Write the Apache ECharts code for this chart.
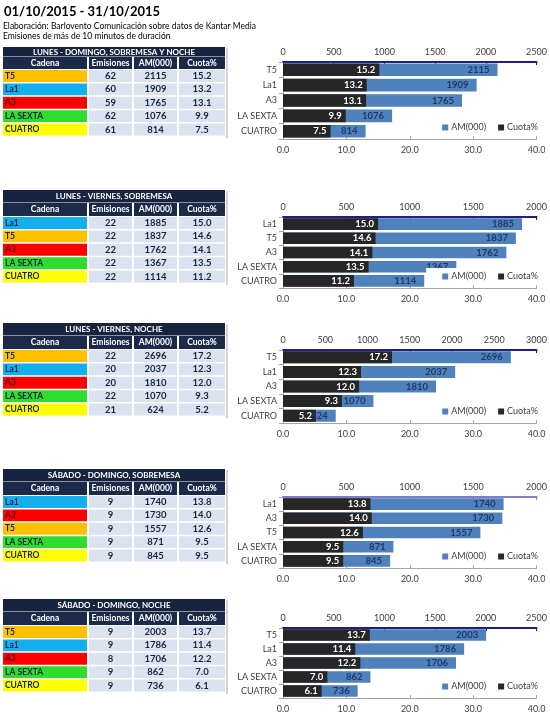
<!DOCTYPE html>
<html>
<head>
<meta charset="utf-8">
<script src="https://cdn.jsdelivr.net/npm/echarts@6/dist/echarts.min.js"></script>
<style>
html,body{margin:0;padding:0;background:#fff;}
#chart{width:550px;height:720px;}
</style>
</head>
<body>
<div id="chart"></div>
<script>
// ---------- DATA ----------
const mainTitle = '01/10/2015 - 31/10/2015';
const subTitle1 = 'Elaboración: Barlovento Comunicación sobre datos de Kantar Media';
const subTitle2 = 'Emisiones de más de 10 minutos de duración';
const panelTitles = ['LUNES - DOMINGO, SOBREMESA Y NOCHE', 'LUNES - VIERNES, SOBREMESA', 'LUNES - VIERNES, NOCHE', 'SÁBADO - DOMINGO, SOBREMESA', 'SÁBADO - DOMINGO, NOCHE'];
const columnHeaders = ['Cadena', 'Emisiones', 'AM(000)', 'Cuota%'];
const seriesNames = ['AM(000)', 'Cuota%'];

const cadena1 = ['T5', 'La1', 'A3', 'LA SEXTA', 'CUATRO'];
const emisiones1 = [62, 60, 59, 62, 61];
const am1 = [2115, 1909, 1765, 1076, 814];
const cuota1 = [15.2, 13.2, 13.1, 9.9, 7.5];

const cadena2 = ['La1', 'T5', 'A3', 'LA SEXTA', 'CUATRO'];
const emisiones2 = [22, 22, 22, 22, 22];
const am2 = [1885, 1837, 1762, 1367, 1114];
const cuota2 = [15.0, 14.6, 14.1, 13.5, 11.2];

const cadena3 = ['T5', 'La1', 'A3', 'LA SEXTA', 'CUATRO'];
const emisiones3 = [22, 20, 20, 22, 21];
const am3 = [2696, 2037, 1810, 1070, 624];
const cuota3 = [17.2, 12.3, 12.0, 9.3, 5.2];

const cadena4 = ['La1', 'A3', 'T5', 'LA SEXTA', 'CUATRO'];
const emisiones4 = [9, 9, 9, 9, 9];
const am4 = [1740, 1730, 1557, 871, 845];
const cuota4 = [13.8, 14.0, 12.6, 9.5, 9.5];

const cadena5 = ['T5', 'La1', 'A3', 'LA SEXTA', 'CUATRO'];
const emisiones5 = [9, 9, 8, 9, 9];
const am5 = [2003, 1786, 1706, 862, 736];
const cuota5 = [13.7, 11.4, 12.2, 7.0, 6.1];

const amAxisMax = [2500, 2000, 3000, 2000, 2500];
const amAxisStep = 500;
const cuotaAxisMax = 40;
const cuotaAxisStep = 10;

// ---------- STYLE / LAYOUT ----------
const FONT = 'Lato, "Open Sans", sans-serif';
const channelColors = {'T5': '#FFC000', 'La1': '#13B0F0', 'A3': '#FF0000', 'LA SEXTA': '#2EDD2E', 'CUATRO': '#FFFF00'};
const NAVY = '#17233F';
const CELL = '#DAE3EF';
const TXT = '#17233F';

const panels = [
  {cad: cadena1, em: emisiones1, am: am1, cu: cuota1},
  {cad: cadena2, em: emisiones2, am: am2, cu: cuota2},
  {cad: cadena3, em: emisiones3, am: am3, cu: cuota3},
  {cad: cadena4, em: emisiones4, am: am4, cu: cuota4},
  {cad: cadena5, em: emisiones5, am: am5, cu: cuota5}
];

const tableTops = [47, 190, 323, 469, 599];
const headerHs = [10, 13, 13, 13, 13];
const colHs = [12, 13, 13, 13, 13];
const rowH = 13.4;
const cols = [[3, 87], [89, 132], [134, 177], [179, 225]];

const gridTops = [62, 217, 350, 497, 628];
const gridHs = [77, 71, 73, 71, 70];
const topAxisColors = ['#1F1F86', '#1F1F86', '#1F1F86', '#7E7EC4', '#1F1F86'];

// ---------- TABLES (graphic) ----------
const graphic = [];
graphic.push({type: 'text', left: 4, top: 5, style: {text: mainTitle, font: 'bold 13px ' + FONT, fill: '#000'}});
graphic.push({type: 'text', left: 3, top: 22, style: {text: subTitle1, font: '8.5px ' + FONT, fill: '#000'}});
graphic.push({type: 'text', left: 3, top: 32, style: {text: subTitle2, font: '8.5px ' + FONT, fill: '#000'}});

panels.forEach((p, i) => {
  const top = tableTops[i];
  const hH = headerHs[i];
  const cH = colHs[i];
  const x0 = cols[0][0], x1 = cols[3][1];
  const totalH = hH + cH + 1 + rowH * p.cad.length;
  graphic.push({type: 'rect', shape: {x: x1 + 1, y: top + 1, width: 2, height: totalH}, style: {fill: '#D4D4D4'}});
  graphic.push({type: 'rect', shape: {x: x0, y: top, width: x1 - x0, height: hH - 0.5}, style: {fill: NAVY}});
  graphic.push({type: 'text', style: {text: panelTitles[i], x: (x0 + x1) / 2, y: top + hH / 2, textAlign: 'center', textVerticalAlign: 'middle', font: 'bold 8px ' + FONT, fill: '#fff'}});
  const cy = top + hH;
  cols.forEach((c, k) => {
    graphic.push({type: 'rect', shape: {x: c[0], y: cy, width: c[1] - c[0], height: cH}, style: {fill: '#1C2A4A'}});
    graphic.push({type: 'text', style: {text: columnHeaders[k], x: (c[0] + c[1]) / 2, y: cy + cH / 2, textAlign: 'center', textVerticalAlign: 'middle', font: 'bold 8.5px ' + FONT, fill: '#fff'}});
  });
  const ry0 = cy + cH + 1;
  p.cad.forEach((name, r) => {
    const ry = ry0 + r * rowH;
    const rh = rowH - 1.5;
    graphic.push({type: 'rect', shape: {x: cols[0][0], y: ry, width: cols[0][1] - cols[0][0], height: rh}, style: {fill: channelColors[name]}});
    graphic.push({type: 'text', style: {text: name, x: cols[0][0] + 2, y: ry + rh / 2, textAlign: 'left', textVerticalAlign: 'middle', font: 'bold 8.5px ' + FONT, fill: name === 'A3' ? '#5A0A14' : TXT}});
    const vals = [String(p.em[r]), String(p.am[r]), p.cu[r].toFixed(1)];
    vals.forEach((v, k) => {
      const c = cols[k + 1];
      graphic.push({type: 'rect', shape: {x: c[0], y: ry, width: c[1] - c[0], height: rh}, style: {fill: CELL}});
      graphic.push({type: 'text', style: {text: v, x: (c[0] + c[1]) / 2, y: ry + rh / 2, textAlign: 'center', textVerticalAlign: 'middle', font: 'bold 9.5px ' + FONT, fill: TXT}});
    });
  });
});

// ---------- CHARTS ----------
const grid = [], xAxis = [], yAxis = [], series = [], legend = [];
const labelStyle = {fontFamily: FONT, fontSize: 9, color: '#404040'};

panels.forEach((p, i) => {
  grid.push({left: 283, right: 12, top: gridTops[i], height: gridHs[i]});
  xAxis.push({
    type: 'value', gridIndex: i, position: 'top', min: 0, max: amAxisMax[i], interval: amAxisStep,
    axisLine: {show: true, lineStyle: {color: topAxisColors[i], width: 2}},
    axisTick: {show: true, inside: true, length: 3, lineStyle: {color: topAxisColors[i]}},
    splitLine: {show: false},
    axisLabel: Object.assign({margin: 5, formatter: v => String(v)}, labelStyle)
  });
  xAxis.push({
    type: 'value', gridIndex: i, position: 'bottom', min: 0, max: cuotaAxisMax, interval: cuotaAxisStep,
    axisLine: {show: true, lineStyle: {color: '#A6A6A6', width: 1}},
    axisTick: {show: true, inside: true, length: 3, lineStyle: {color: '#A6A6A6'}},
    splitLine: {show: false},
    axisLabel: Object.assign({margin: 7, formatter: v => v.toFixed(1)}, labelStyle)
  });
  yAxis.push({
    type: 'category', gridIndex: i, data: p.cad, inverse: true,
    axisLine: {show: true, lineStyle: {color: '#A6A6A6'}},
    axisTick: {show: true, length: 4, lineStyle: {color: '#A6A6A6'}},
    axisLabel: Object.assign({margin: 6}, labelStyle)
  });
  series.push({
    type: 'bar', name: seriesNames[0], xAxisIndex: 2 * i, yAxisIndex: i, data: p.am,
    barCategoryGap: '18%', barGap: '-100%',
    itemStyle: {color: '#4F81BD'},
    label: {show: true, position: 'insideRight', distance: 8, color: '#1F3864', fontWeight: 'bold', fontSize: 9.5, fontFamily: FONT}
  });
  series.push({
    type: 'bar', name: seriesNames[1], xAxisIndex: 2 * i + 1, yAxisIndex: i, data: p.cu,
    barCategoryGap: '18%', barGap: '-100%',
    itemStyle: {color: '#262626'},
    label: {show: true, position: 'insideRight', distance: 4, color: '#fff', fontWeight: 'bold', fontSize: 9.5, fontFamily: FONT, formatter: d => d.value.toFixed(1)}
  });
  legend.push({
    data: seriesNames, right: 10, top: gridTops[i] + gridHs[i] - 20,
    backgroundColor: '#fff', padding: [4, 2, 4, 16], itemGap: 12,
    icon: 'rect', itemWidth: 6, itemHeight: 6, selectedMode: false,
    textStyle: {fontFamily: FONT, fontSize: 9, color: '#404040', padding: [0, 0, 0, -2]}
  });
});

const chart = echarts.init(document.getElementById('chart'), null, {renderer: 'canvas'});
chart.setOption({
  animation: false,
  backgroundColor: '#fff',
  grid, xAxis, yAxis, series, legend, graphic
});
</script>
</body>
</html>
